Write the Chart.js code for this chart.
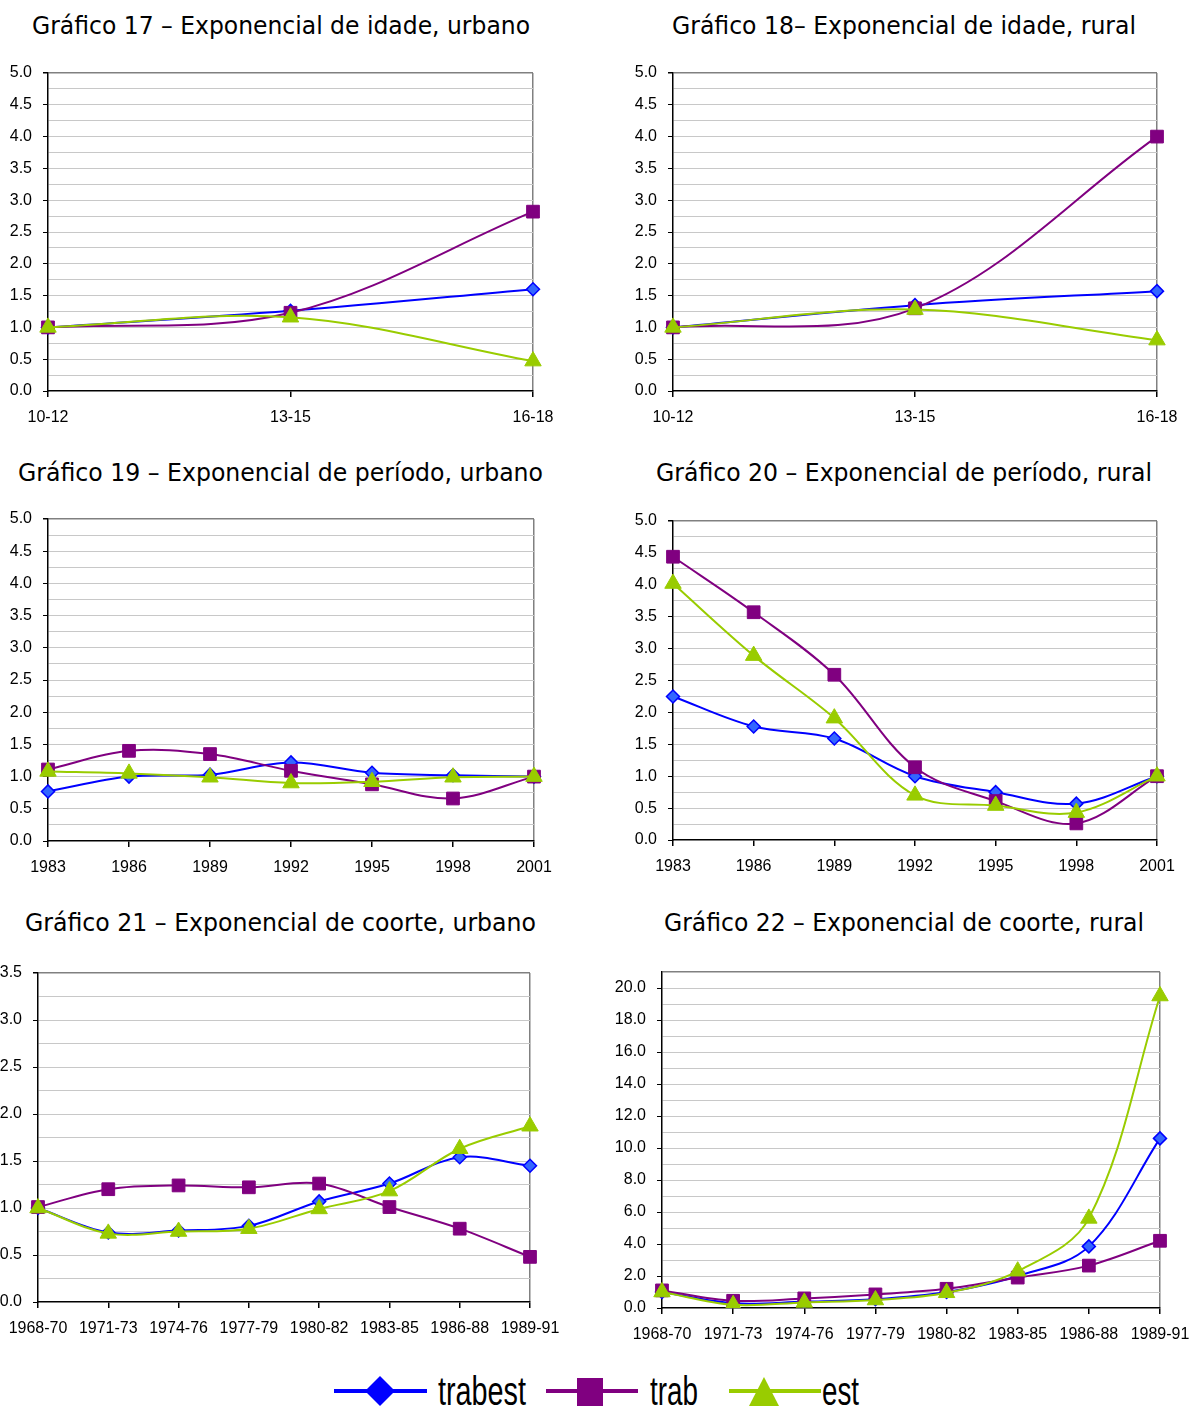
<!DOCTYPE html>
<html>
<head>
<meta charset="utf-8">
<script src="https://cdn.jsdelivr.net/npm/chart.js@4.4.1/dist/chart.umd.min.js"></script>
<style>
body{margin:0;background:#fff;width:1196px;height:1406px;position:relative;overflow:hidden}
.box{position:absolute}
#txt{position:absolute;left:0;top:0}
#txt text{fill:#000}
.ttl{font-family:"DejaVu Sans Condensed","DejaVu Sans",sans-serif;font-size:24px}
.leg{font-family:"Liberation Sans Narrow","Liberation Sans",sans-serif;font-size:40px}
</style>
</head>
<body>
<svg id="txt" width="1196" height="1406">
  <text class="ttl" x="32" y="34" textLength="498" lengthAdjust="spacingAndGlyphs">Gráfico 17 – Exponencial de idade, urbano</text>
  <text class="ttl" x="672" y="34" textLength="464" lengthAdjust="spacingAndGlyphs">Gráfico 18– Exponencial de idade, rural</text>
  <text class="ttl" x="18" y="481" textLength="525" lengthAdjust="spacingAndGlyphs">Gráfico 19 – Exponencial de período, urbano</text>
  <text class="ttl" x="656" y="481" textLength="496" lengthAdjust="spacingAndGlyphs">Gráfico 20 – Exponencial de período, rural</text>
  <text class="ttl" x="25" y="931" textLength="511" lengthAdjust="spacingAndGlyphs">Gráfico 21 – Exponencial de coorte, urbano</text>
  <text class="ttl" x="664" y="931" textLength="480" lengthAdjust="spacingAndGlyphs">Gráfico 22 – Exponencial de coorte, rural</text>

  <!-- legenda -->
  <line x1="334" y1="1391" x2="427" y2="1391" stroke="#0000FF" stroke-width="4"/>
  <polygon points="380,1376 395,1391 380,1406 365,1391" fill="#0000FF"/>
  <text class="leg" x="438" y="1405" textLength="88" lengthAdjust="spacingAndGlyphs">trabest</text>
  <line x1="546" y1="1391" x2="638" y2="1391" stroke="#800080" stroke-width="4"/>
  <rect x="577" y="1378" width="26" height="28" fill="#800080"/>
  <text class="leg" x="650" y="1405" textLength="48" lengthAdjust="spacingAndGlyphs">trab</text>
  <line x1="729" y1="1391" x2="821" y2="1391" stroke="#99CC00" stroke-width="4"/>
  <polygon points="764,1377 779,1406 749,1406" fill="#99CC00"/>
  <text class="leg" x="822" y="1405" textLength="37" lengthAdjust="spacingAndGlyphs">est</text>
</svg>

<div class="box" id="b17"><canvas id="c17"></canvas></div>
<div class="box" id="b18"><canvas id="c18"></canvas></div>
<div class="box" id="b19"><canvas id="c19"></canvas></div>
<div class="box" id="b20"><canvas id="c20"></canvas></div>
<div class="box" id="b21"><canvas id="c21"></canvas></div>
<div class="box" id="b22"><canvas id="c22"></canvas></div>

<script>
// categorias
var idadeLabels = ["10-12", "13-15", "16-18"];
var periodoLabels = ["1983", "1986", "1989", "1992", "1995", "1998", "2001"];
var coorteLabels = ["1968-70", "1971-73", "1974-76", "1977-79", "1980-82", "1983-85", "1986-88", "1989-91"];

// Gráfico 17 - idade, urbano
var idadeUrbTrabest = [1.0, 1.26, 1.60];
var idadeUrbTrab = [1.0, 1.23, 2.82];
var idadeUrbEst = [1.0, 1.16, 0.47];
// Gráfico 18 - idade, rural
var idadeRurTrabest = [1.0, 1.35, 1.57];
var idadeRurTrab = [1.0, 1.30, 4.00];
var idadeRurEst = [1.0, 1.28, 0.80];
// Gráfico 19 - período, urbano
var perUrbTrabest = [0.77, 1.0, 1.03, 1.22, 1.06, 1.02, 1.0];
var perUrbTrab = [1.11, 1.40, 1.35, 1.09, 0.88, 0.66, 1.0];
var perUrbEst = [1.08, 1.05, 0.99, 0.90, 0.92, 0.99, 1.0];
// Gráfico 20 - período, rural
var perRurTrabest = [2.25, 1.78, 1.59, 1.0, 0.75, 0.57, 1.0];
var perRurTrab = [4.44, 3.57, 2.59, 1.14, 0.61, 0.26, 1.0];
var perRurEst = [4.02, 2.89, 1.91, 0.70, 0.54, 0.43, 1.0];
// Gráfico 21 - coorte, urbano
var coUrbTrabest = [1.0, 0.74, 0.76, 0.81, 1.07, 1.26, 1.54, 1.45];
var coUrbTrab = [1.01, 1.20, 1.24, 1.22, 1.26, 1.01, 0.78, 0.48];
var coUrbEst = [1.0, 0.73, 0.75, 0.78, 0.99, 1.18, 1.63, 1.87];
// Gráfico 22 - coorte, rural
var coRurTrabest = [1.0, 0.3, 0.4, 0.55, 1.0, 2.0, 3.85, 10.6];
var coRurTrab = [1.1, 0.45, 0.6, 0.85, 1.2, 1.9, 2.65, 4.2];
var coRurEst = [1.0, 0.2, 0.35, 0.5, 0.95, 2.3, 5.6, 19.5];

// espaço em volta da área do gráfico (px)
var PADL = 60, PADT = 22, PADR = 46, PADB = 40;

function makeChart(id, labels, trabest, trab, est, yMax, step, major, rect){
    var box = document.getElementById('b' + id);
    var cv = document.getElementById('c' + id);
    var w = rect[2] - rect[0] + PADL + PADR;
    var h = rect[3] - rect[1] + PADT + PADB;
    box.style.left = (rect[0] - PADL) + 'px';
    box.style.top = (rect[1] - PADT) + 'px';
    cv.width = w; cv.height = h;
    cv.style.width = w + 'px'; cv.style.height = h + 'px';

    function isMajor(v){ return Math.abs(v / major - Math.round(v / major)) < 1e-6; }

    return new Chart(cv.getContext('2d'), {
        type: 'line',
        data: {
            labels: labels,
            datasets: [{
                label: 'trabest', data: trabest, order: 3,
                borderColor: '#0000FF', backgroundColor: '#3366FF',
                pointStyle: 'rectRot', pointRadius: 6.5, pointBorderColor: '#0000FF', pointBorderWidth: 1.5
            }, {
                label: 'trab', data: trab, order: 2,
                borderColor: '#800080', backgroundColor: '#800080',
                pointStyle: 'rect', pointRadius: 9, pointBorderColor: '#800080', pointBorderWidth: 1
            }, {
                label: 'est', data: est, order: 1,
                borderColor: '#99CC00', backgroundColor: '#99CC00',
                pointStyle: 'triangle', pointRadius: 9.5, pointBorderColor: '#99CC00', pointBorderWidth: 1
            }]
        },
        options: {
            responsive: false,
            animation: false,
            devicePixelRatio: 1,
            elements: { line: { borderWidth: 2, tension: 0.35, fill: false } },
            layout: { padding: { left: 0, top: PADT, right: PADR, bottom: 0 } },
            plugins: { legend: { display: false }, tooltip: { enabled: false } },
            scales: {
                x: {
                    offset: false,
                    afterFit: function(s){ s.height = PADB; },
                    grid: {
                        color: function(c){ return c.index === labels.length - 1 ? '#808080' : 'rgba(0,0,0,0)'; },
                        tickColor: '#000', tickLength: 6, lineWidth: 1.5
                    },
                    border: { color: '#000', width: 1.5 },
                    ticks: { color: '#000', padding: 11, maxRotation: 0, autoSkip: false,
                        font: { family: 'Liberation Sans', size: 16 } }
                },
                y: {
                    min: 0, max: yMax,
                    afterFit: function(s){ s.width = PADL; },
                    grid: {
                        color: function(c){
                            if (c.tick.value === 0) return 'rgba(0,0,0,0)';
                            return c.tick.value === yMax ? '#808080' : '#c8c8c8';
                        },
                        lineWidth: function(c){ return c.tick.value === yMax ? 1.5 : 1; },
                        tickColor: function(c){ return isMajor(c.tick.value) ? '#000' : 'rgba(0,0,0,0)'; },
                        tickLength: 5
                    },
                    border: { color: '#000', width: 1.5 },
                    ticks: {
                        stepSize: step, autoSkip: false, padding: 11, color: '#000',
                        font: { family: 'Liberation Sans', size: 16 },
                        callback: function(v){ return isMajor(v) ? v.toFixed(1) : ''; }
                    }
                }
            }
        }
    });
}

makeChart(17, idadeLabels, idadeUrbTrabest, idadeUrbTrab, idadeUrbEst, 5, 0.25, 0.5, [48, 73, 533, 391]);
makeChart(18, idadeLabels, idadeRurTrabest, idadeRurTrab, idadeRurEst, 5, 0.25, 0.5, [673, 73, 1157, 391]);
makeChart(19, periodoLabels, perUrbTrabest, perUrbTrab, perUrbEst, 5, 0.25, 0.5, [48, 519, 534, 841]);
makeChart(20, periodoLabels, perRurTrabest, perRurTrab, perRurEst, 5, 0.25, 0.5, [673, 521, 1157, 840]);
makeChart(21, coorteLabels, coUrbTrabest, coUrbTrab, coUrbEst, 3.5, 0.25, 0.5, [38, 973, 530, 1302]);
makeChart(22, coorteLabels, coRurTrabest, coRurTrab, coRurEst, 21, 1, 2, [662, 972, 1160, 1308]);
</script>
</body>
</html>
